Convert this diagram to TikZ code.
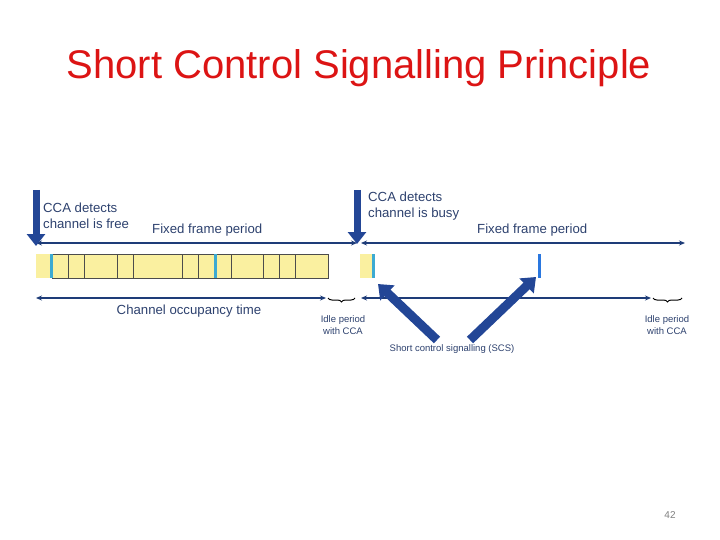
\documentclass[tikz,border=0pt]{standalone}
\usepackage{fontspec}
\setmainfont{Liberation Sans}
\usetikzlibrary{arrows.meta,decorations.pathreplacing}
\definecolor{navy}{RGB}{30,60,120}
\definecolor{bigb}{RGB}{35,70,150}
\definecolor{ylw}{RGB}{250,240,160}
\definecolor{cyn}{RGB}{60,170,210}
\definecolor{ttl}{RGB}{220,20,20}
\definecolor{txt}{RGB}{45,65,110}
\tikzset{
 x=1pt,y=-1pt,
 lbl/.style={text=txt,font=\fontsize{13.2}{15.5}\selectfont,inner sep=0pt},
 small/.style={text=txt,font=\fontsize{9.5}{11.5}\selectfont,align=center,inner sep=0pt},
 dim/.style={navy,line width=1.2pt,{Stealth[length=6pt,width=5pt]}-{Stealth[length=6pt,width=5pt]}},
 bigarrow/.style={bigb,line width=7pt,-{Triangle[length=12pt,width=18pt]}},
 diagarrow/.style={bigb,line width=9pt,-{Triangle[length=13pt,width=20pt]}},
 cell/.style={fill=ylw,draw=black!70,line width=0.5pt},
 brc/.style={black,line width=1pt,decorate,decoration={brace,amplitude=4pt,mirror}}
}
\begin{document}
\begin{tikzpicture}
\useasboundingbox (0,0) rectangle (720,540);
\node[text=ttl,font=\fontsize{40}{44}\selectfont] (title) at (359,68) {Short Control Signalling Principle};
% strip left
\fill[ylw] (36,254) rectangle (52,278);
\foreach \a/\b in {52/68.7,68.7/84,84/117,117/133,133/182,182/198,198/215,215/231,231/263,263/279,279/295,295/328}{\draw[cell] (\a,254) rectangle (\b,278);}
\fill[cyn] (49.5,254) rectangle (52.5,278);
\fill[cyn] (213.5,254) rectangle (216.5,278);
\fill[ylw] (360,254) rectangle (372,278);
\fill[cyn] (372,254) rectangle (375,278);
\fill[cyn!70!blue] (537.5,254) rectangle (540.5,278);
% dimension arrows
\coordinate (t1) at (36,243); \coordinate (t2) at (357,243);
\coordinate (t3) at (361,243); \coordinate (t4) at (685,243);
\draw[dim] (t1) -- (t2); \draw[dim] (t3) -- (t4);
\coordinate (b1) at (36,298); \coordinate (b2) at (326,298);
\coordinate (b3) at (361,298); \coordinate (b4) at (651,298);
\draw[dim] (b1) -- (b2); \draw[dim] (b3) -- (b4);
\draw[brc] (328,298) -- (355,298);
\draw[brc] (653,298) -- (682,298);
% big arrows
\coordinate (d1s) at (36,190); \coordinate (d1e) at (36,246);
\coordinate (d2s) at (357,190); \coordinate (d2e) at (357,244);
\draw[bigarrow] (d1s) -- (d1e);
\draw[bigarrow] (d2s) -- (d2e);
\coordinate (s1) at (437,340); \coordinate (s1e) at (378,284);
\coordinate (s2) at (470,340); \coordinate (s2e) at (536,277);
\draw[diagarrow] (s1) -- (s1e);
\draw[diagarrow] (s2) -- (s2e);
% labels
\node[lbl,anchor=north west,align=left] (c1) at (43,203) {CCA detects\\channel is free};
\node[lbl,anchor=west] (f1) at (152,230) {Fixed frame period};
\node[lbl,anchor=north west,align=left] (c2) at (368,192) {CCA detects\\channel is busy};
\node[lbl,anchor=west] (f2) at (477,230) {Fixed frame period};
\node[lbl] (cot) at (189,311) {Channel occupancy time};
\node[small] (i1) at (343,325) {Idle period\\with CCA};
\node[small] (i2) at (667,325) {Idle period\\with CCA};
\node[small] (scs) at (452,349) {Short control signalling (SCS)};
\node[text=gray,font=\fontsize{10}{12}\selectfont] (pg) at (670,515) {42};
\end{tikzpicture}
\end{document}
